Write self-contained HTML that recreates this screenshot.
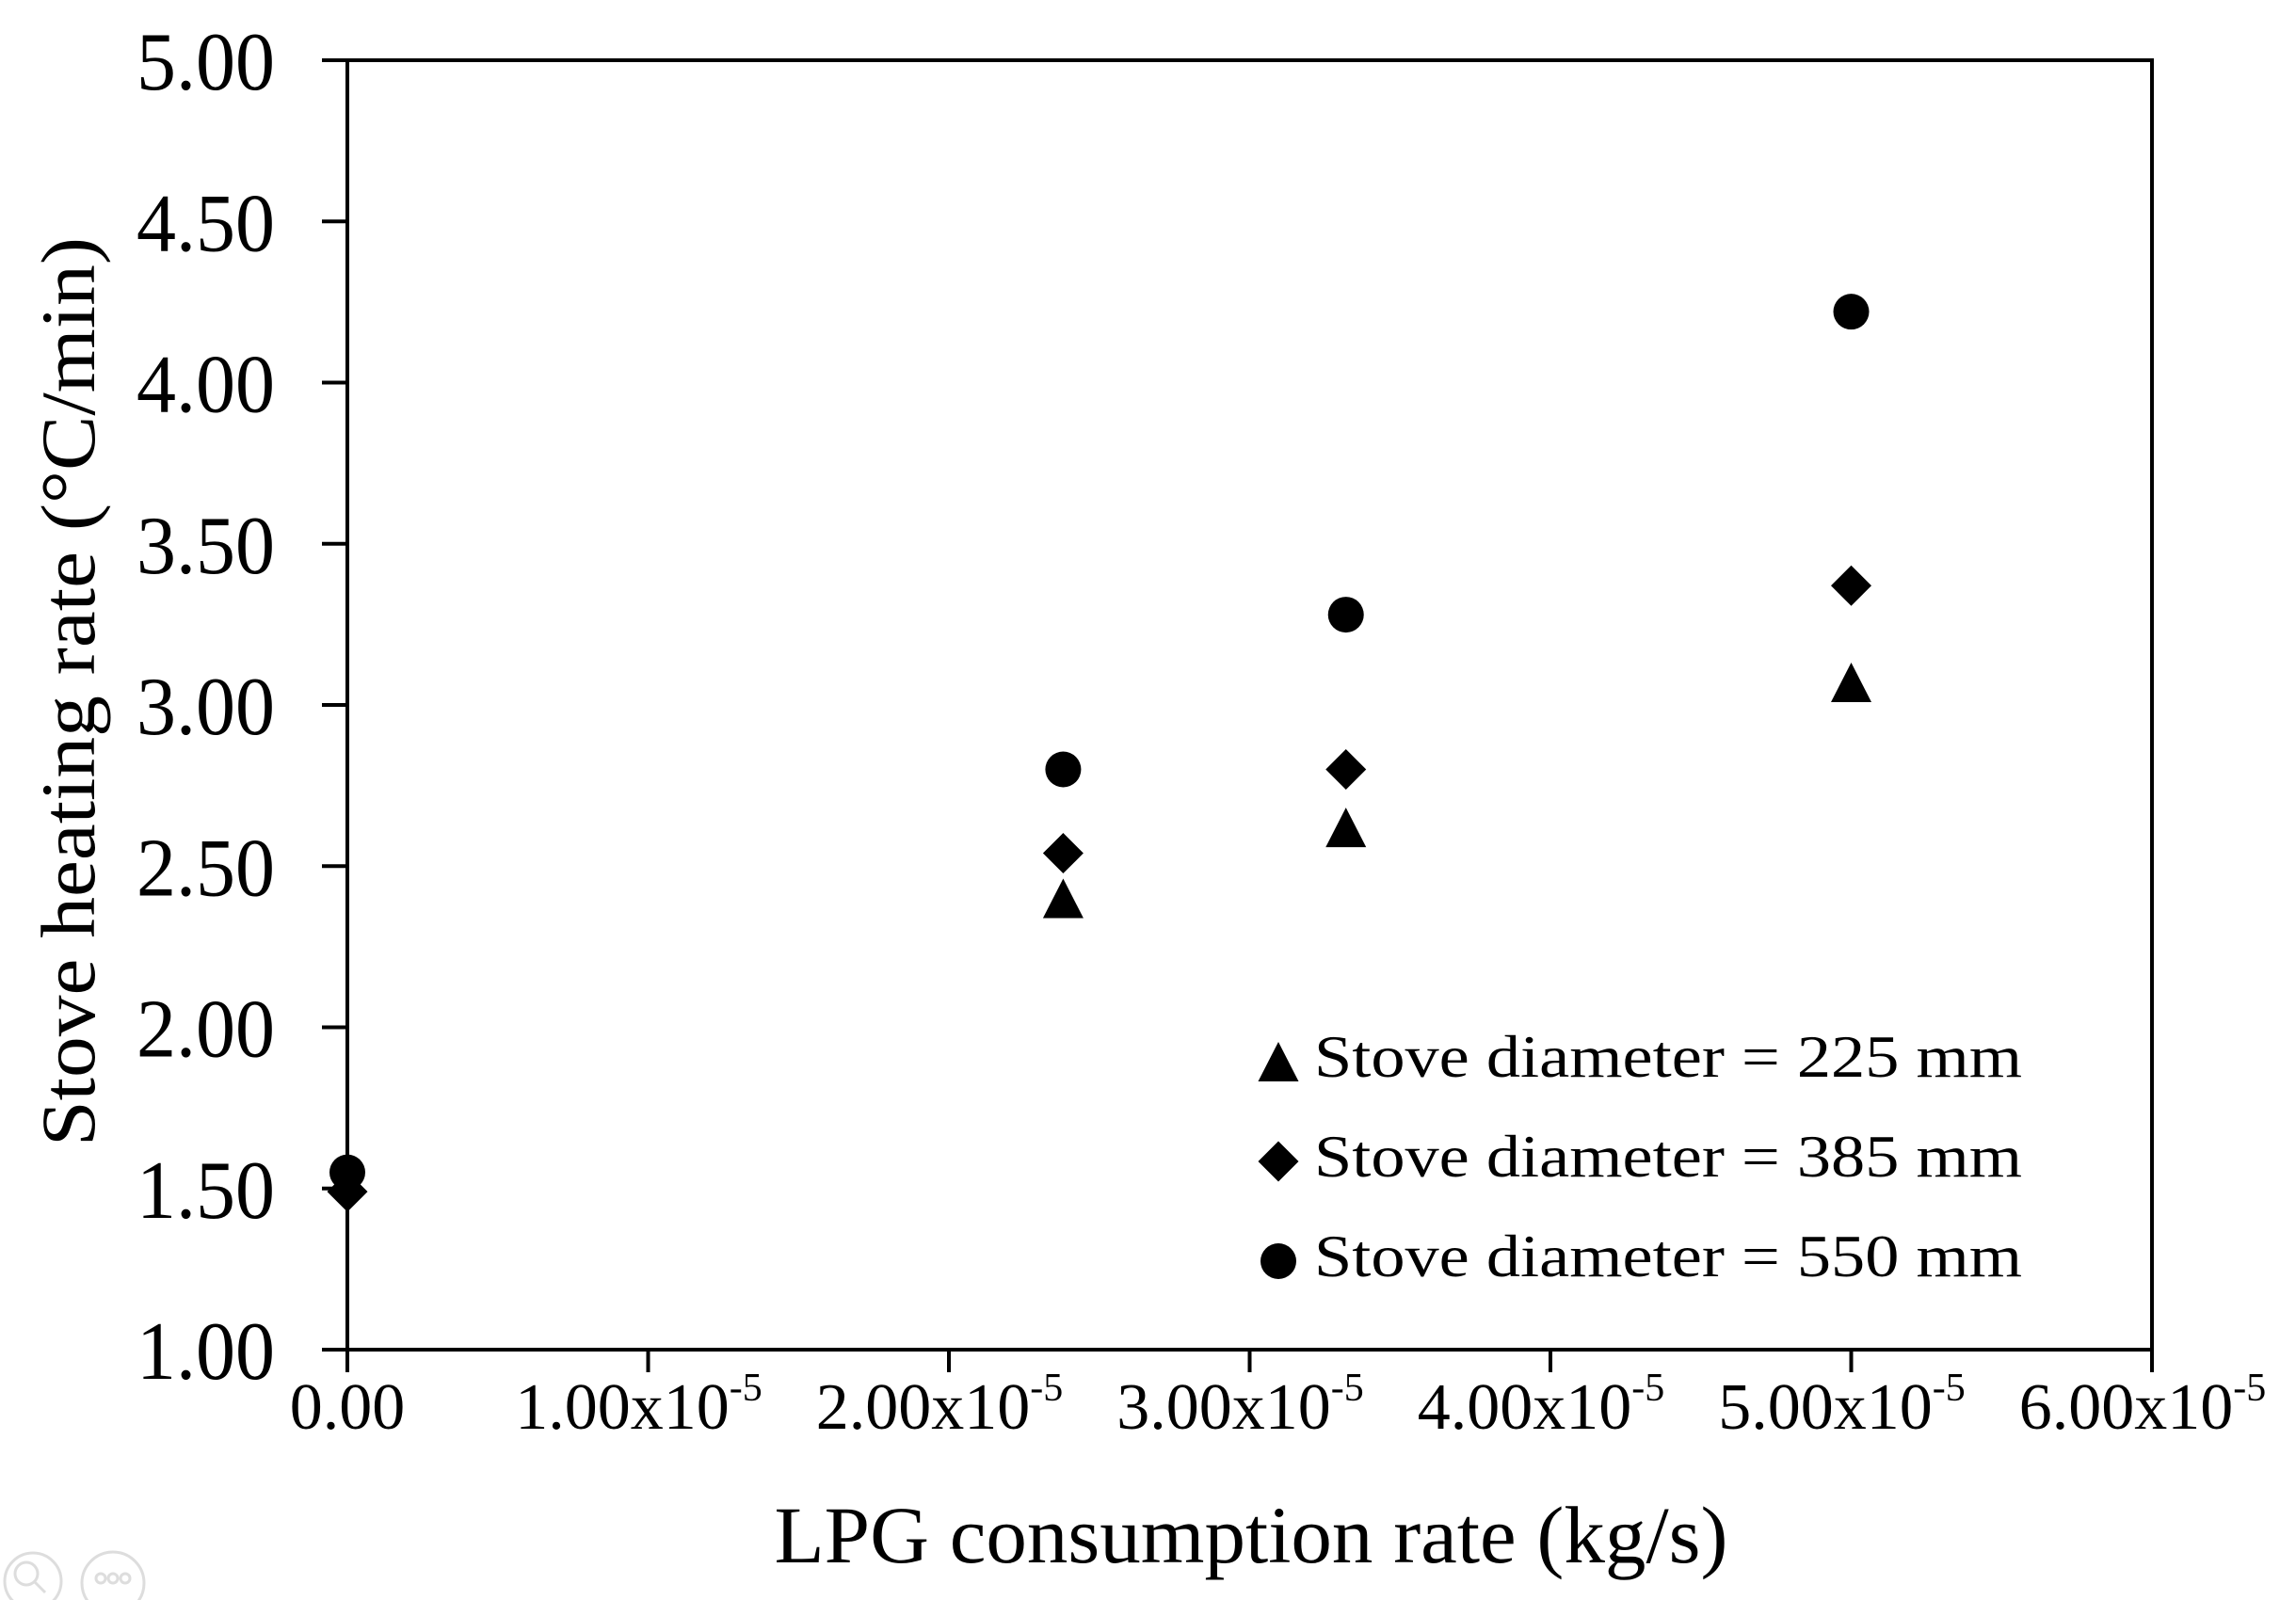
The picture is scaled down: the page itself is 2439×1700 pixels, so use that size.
<!DOCTYPE html>
<html><head><meta charset="utf-8"><style>
html,body{margin:0;padding:0;background:#fff;}
svg{display:block;}
text{font-family:"Liberation Serif",serif;fill:#000;}
</style></head><body>
<svg id="chart" width="2439" height="1700" viewBox="0 0 2439 1700" xmlns="http://www.w3.org/2000/svg">
<rect width="2439" height="1700" fill="#fff"/>
<g id="axes"></g>
<g id="marks"></g>
<g id="legend"></g>
<text x="1329" y="1660" font-size="86" text-anchor="middle" textLength="1013" lengthAdjust="spacingAndGlyphs">LPG consumption rate (kg/s)</text>
<text transform="translate(100,735) rotate(-90)" font-size="82" text-anchor="middle" textLength="966" lengthAdjust="spacingAndGlyphs">Stove heating rate (°C/min)</text>
<g fill="none" stroke="#ddd" stroke-width="3">
<circle cx="35" cy="1680" r="30"/><circle cx="28" cy="1672" r="12"/><line x1="37" y1="1681" x2="48" y2="1692"/>
</g>
<g fill="none" stroke="#ddd" stroke-width="3">
<circle cx="120" cy="1682" r="33"/><circle cx="107" cy="1677" r="5"/><circle cx="120" cy="1677" r="5"/><circle cx="133" cy="1677" r="5"/>
</g>
</svg>
<script>
const xTicks = [0, 1, 2, 3, 4, 5, 6];
const xTickLabels = ["0.00", "1.00x10", "2.00x10", "3.00x10", "4.00x10", "5.00x10", "6.00x10"];
const yTicks = [1.0, 1.5, 2.0, 2.5, 3.0, 3.5, 4.0, 4.5, 5.0];
const yTickLabels = ["1.00", "1.50", "2.00", "2.50", "3.00", "3.50", "4.00", "4.50", "5.00"];
const xValues = [0, 2.38, 3.32, 5.0];
const xValues225 = [2.38, 3.32, 5.0];
const series225 = [2.40, 2.62, 3.07];
const series385 = [1.49, 2.54, 2.80, 3.37];
const series550 = [1.55, 2.80, 3.28, 4.22];
const legendLabels = ["Stove diameter = 225 mm", "Stove diameter = 385 mm", "Stove diameter = 550 mm"];

const NS = "http://www.w3.org/2000/svg";
const L = 369, R = 2286, T = 64, B = 1434;
const xMin = 0, xMax = 6, yMin = 1, yMax = 5;
function sx(v){ return L + (v - xMin) / (xMax - xMin) * (R - L); }
function sy(v){ return B - (v - yMin) / (yMax - yMin) * (B - T); }
function mk(tag, attrs, parent){
  const e = document.createElementNS(NS, tag);
  for (const k in attrs) e.setAttribute(k, attrs[k]);
  parent.appendChild(e);
  return e;
}
const axes = document.getElementById('axes');
const marks = document.getElementById('marks');
const legend = document.getElementById('legend');

const frame = mk('rect', {x:L, y:T, width:R-L, height:B-T, fill:'none', stroke:'#000', 'stroke-width':4}, axes);



yTicks.forEach((v, i) => {
  const y = sy(v);
  const t = mk('line', {x1:L-27, x2:L, y1:y, y2:y, stroke:'#000', 'stroke-width':4}, axes);
  
  
  const lb = mk('text', {x:292, y:y+31, 'font-size':88, 'text-anchor':'end', textLength:147, lengthAdjust:'spacingAndGlyphs'}, axes);
  
  
  lb.textContent = yTickLabels[i];
});

xTicks.forEach((v, i) => {
  const x = sx(v);
  const t = mk('line', {x1:x, x2:x, y1:B, y2:B+24, stroke:'#000', 'stroke-width':4}, axes);
  
  
  const lb = mk('text', {x: i === 0 ? x : x - 10, y:1518, 'font-size':70, 'text-anchor':'middle'}, axes);
  
  
  lb.textContent = xTickLabels[i];
  if (i > 0) {
    const sp = mk('tspan', {'font-size':42, dy:-30}, lb);
    sp.textContent = "-5";
  }
});

function triangle(cx, cy, parent){
  return mk('polygon', {points:`${cx},${cy-21} ${cx+21.5},${cy+21} ${cx-21.5},${cy+21}`, fill:'#000'}, parent);
}
function diamond(cx, cy, parent){
  return mk('polygon', {points:`${cx},${cy-21.5} ${cx+21.5},${cy} ${cx},${cy+21.5} ${cx-21.5},${cy}`, fill:'#000'}, parent);
}
function circle(cx, cy, parent){
  return mk('circle', {cx:cx, cy:cy, r:19, fill:'#000'}, parent);
}

series225.forEach((v, i) => {
  const m = triangle(sx(xValues225[i]), sy(v), marks);
  
  
});
series385.forEach((v, i) => {
  const m = diamond(sx(xValues[i]), sy(v), marks);
  
  
});
series550.forEach((v, i) => {
  const m = circle(sx(xValues[i]), sy(v), marks);
  
  
});

const makers = [triangle, diamond, circle];
const rowY = [1128, 1234, 1340];
legendLabels.forEach((lab, i) => {
  const g = mk('g', {}, legend);
  
  
  const m = makers[i](1358, rowY[i], g);
  
  
  const t = mk('text', {x:1396, y:rowY[i]+16, 'font-size':64, textLength:752, lengthAdjust:'spacingAndGlyphs'}, g);
  
  
  t.textContent = lab;
});
</script>
</body></html>
